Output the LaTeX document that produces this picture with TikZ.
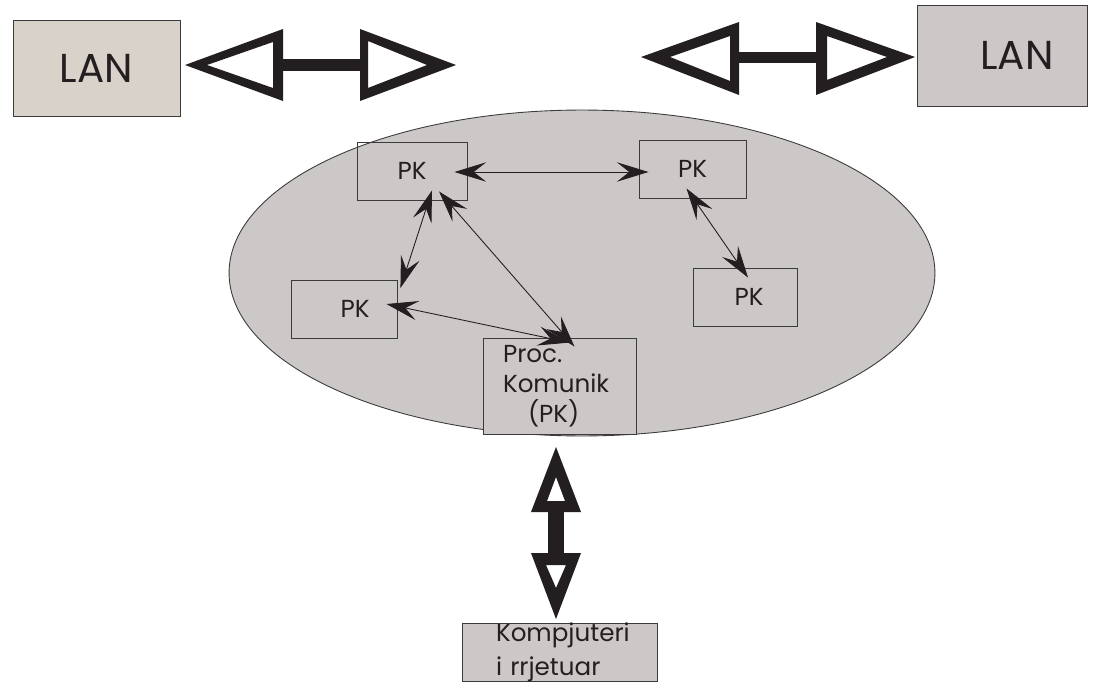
\documentclass[tikz,border=0pt]{standalone}
\usepackage{fontspec}
\setmainfont{Poppins}
\usetikzlibrary{arrows.meta,positioning,calc,shapes.geometric}
\definecolor{lanbeige}{RGB}{217,210,203}
\definecolor{netgrey}{RGB}{204,200,199}
\definecolor{inkdark}{RGB}{35,31,32}
\definecolor{edgegrey}{RGB}{60,58,58}

\begin{document}
\begin{tikzpicture}[x=0.02cm, y=-0.02cm,
  every node/.style={font=\fontsize{14}{17}\selectfont, text=inkdark},
  box/.style={draw=edgegrey, line width=0.5pt, inner sep=0pt, align=center},
  lan/.style={box, font=\fontsize{23}{26}\selectfont},
  pk/.style={box, minimum height=1.16cm},
  link/.style={{Stealth[length=18pt,width=11pt,inset=7pt]}-{Stealth[length=18pt,width=11pt,inset=7pt]}, line width=0.5pt, inkdark},
  fat/.style={fill=inkdark, even odd rule},
]
\fill[white] (0,0) rectangle (1094,682);
\useasboundingbox (0,0) rectangle (1094,682);

% the network
\node[ellipse, draw=edgegrey, fill=netgrey, line width=0.5pt, minimum width=14.12cm, minimum height=6.52cm, inner sep=0pt] (net) at (582,273) {};

\node[lan, fill=lanbeige, minimum width=3.34cm, minimum height=1.92cm] (lanl) at (96.5,68) {LAN};
\node[lan, fill=netgrey, minimum width=3.4cm, minimum height=2.02cm] (lanr) at (1002,55.5) {\hspace*{0.6cm}LAN};

\node[pk, minimum width=2.2cm] (pka) at (412,171) {PK};
\node[pk, minimum width=2.14cm] (pkb) at (692.5,169) {PK};
\node[pk, minimum width=2.12cm] (pkc) at (344,309) {\hspace*{0.44cm}PK};
\node[pk, minimum width=2.08cm] (pkd) at (745,297) {\hspace*{0.16cm}PK};
\node[box, fill=netgrey, align=left, text width=2.26cm, inner xsep=0.4cm, minimum height=1.92cm] (proc) at (559.5,386) {Proc.\\Komunik\\\hspace*{0.5cm}(PK)};
\node[box, fill=netgrey, align=left, text width=2.54cm, inner xsep=0.68cm, minimum height=1.14cm, font=\fontsize{14}{19}\selectfont] (komp) at (559.5,652.5) {Kompjuteri\\i rrjetuar};

% links inside
\draw[link] ($(pka.east)+(-13,1)$) -- ($(pkb.west)+(10,3)$);
\draw[link] ($(pka.south)+(20,-10)$) -- ($(pkc.east)+(3,-21)$);
\draw[link] ($(pka.south)+(27,-9)$) -- ($(proc.north)+(15,9)$);
\draw[link] ($(pkc.east)+(-11,-5)$) -- ($(proc.north)+(10,5)$);
\draw[link] ($(pkb.south)+(-6,-10)$) -- ($(pkd.north)+(3,10)$);

% big double arrows
\fill[fat] (185,65) -- (283,29) -- (283,101) -- cycle (207,65) -- (273,42) -- (273,88) -- cycle;
\fill[inkdark] (283,59) rectangle (360,71);
\fill[fat] (456,65) -- (360,29) -- (360,101) -- cycle (427,65) -- (368,41) -- (368,88) -- cycle;

\fill[fat] (641,57) -- (739,22) -- (739,95) -- cycle (670,57) -- (730,36) -- (730,81) -- cycle;
\fill[inkdark] (739,52) rectangle (816,63);
\fill[fat] (915,57) -- (816,22) -- (816,95) -- cycle (887,57) -- (827,36) -- (827,80) -- cycle;

\fill[fat] (556,447) -- (531,512) -- (581,512) -- cycle (556,477) -- (547,501) -- (565,501) -- cycle;
\fill[inkdark] (548,512) rectangle (564,553);
\fill[fat] (556,619) -- (531,553) -- (581,553) -- cycle (556,588) -- (546,565) -- (566,565) -- cycle;
\end{tikzpicture}
\end{document}
